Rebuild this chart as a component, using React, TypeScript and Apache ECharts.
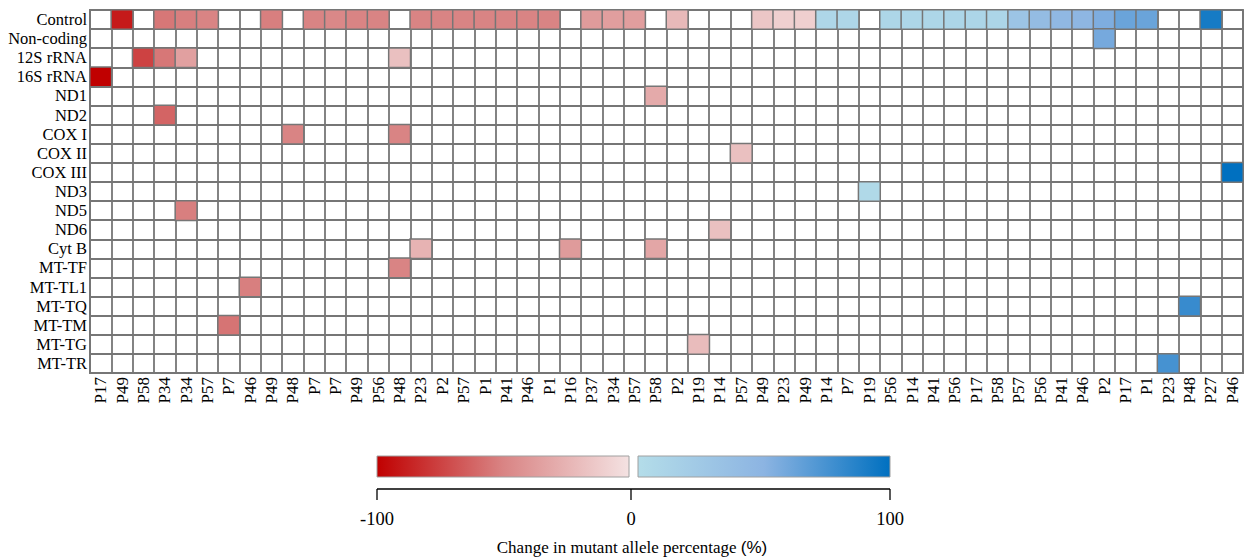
import React, { useEffect, useRef } from "react";
import * as echarts from "echarts";

const xLabels = [
  "P17", "P49", "P58", "P34", "P34", "P57", "P7", "P46", "P49", "P48",
  "P7", "P7", "P49", "P56", "P48", "P23", "P2", "P57", "P1", "P41",
  "P46", "P1", "P16", "P37", "P34", "P57", "P58", "P2", "P19", "P14",
  "P57", "P49", "P23", "P49", "P14", "P7", "P19", "P56", "P14", "P41",
  "P56", "P17", "P58", "P57", "P56", "P41", "P46", "P2", "P17", "P1",
  "P23", "P48", "P27", "P46",
];

const yLabels = [
  "Control", "Non-coding", "12S rRNA", "16S rRNA", "ND1", "ND2", "COX I",
  "COX II", "COX III", "ND3", "ND5", "ND6", "Cyt B", "MT-TF", "MT-TL1",
  "MT-TQ", "MT-TM", "MT-TG", "MT-TR",
];

// Control row: one value per column (null = no change)
const controlRow: (number | null)[] = [
  null, -90, null, -55, -52, -50, null, null, -52, null,
  -50, -48, -50, -50, null, -50, -50, -50, -50, -50,
  -50, -50, null, -38, -36, -36, null, -22, null, null,
  null, -15, -10, -10, 8, 8, null, 9, 9, 9,
  10, 10, 10, 30, 40, 45, 47, 55, 62, 62,
  null, null, 92, null,
];

// Other genes: [column, gene, value]
const otherCells: [number, string, number][] = [
  [47, "Non-coding", 58],
  [2, "12S rRNA", -75],
  [3, "12S rRNA", -55],
  [4, "12S rRNA", -35],
  [14, "12S rRNA", -18],
  [0, "16S rRNA", -100],
  [26, "ND1", -30],
  [3, "ND2", -62],
  [9, "COX I", -50],
  [14, "COX I", -50],
  [30, "COX II", -18],
  [53, "COX III", 100],
  [36, "ND3", 5],
  [4, "ND5", -52],
  [29, "ND6", -18],
  [15, "Cyt B", -25],
  [22, "Cyt B", -38],
  [26, "Cyt B", -32],
  [14, "MT-TF", -50],
  [7, "MT-TL1", -52],
  [51, "MT-TQ", 80],
  [6, "MT-TM", -56],
  [28, "MT-TG", -20],
  [50, "MT-TR", 75],
];

const legendTicks = [-100, 0, 100];

const redColors = ["#c00000", "#d98484", "#f4e2e2"];
const blueColors = ["#b4dde9", "#8cb4e2", "#0070c0"];

const FONT = "'Liberation Serif', 'Times New Roman', serif";

export default function App() {
  const ref = useRef<HTMLDivElement>(null);

  useEffect(() => {
    document.body.style.margin = "0";
    if (!ref.current) return;
    const chart = echarts.init(ref.current, undefined, { renderer: "svg" });

    const allCells: [number, number, number][] = [];
    controlRow.forEach((v, i) => {
      if (v !== null) allCells.push([i, 0, v]);
    });
    otherCells.forEach(([c, g, v]) => {
      allCells.push([c, yLabels.indexOf(g), v]);
    });
    const negCells = allCells.filter((d) => d[2] < 0);
    const posCells = allCells.filter((d) => d[2] >= 0);

    const barY = 456;
    const barH = 21;
    const redX0 = 377;
    const redX1 = 629;
    const blueX0 = 638;
    const blueX1 = 890;
    const axisY = 489;
    const tickPos: Record<number, number> = { [-100]: 377, 0: 631, 100: 890 };

    const graphics: any[] = [
      {
        type: "rect",
        shape: { x: redX0, y: barY, width: redX1 - redX0, height: barH },
        style: {
          fill: new echarts.graphic.LinearGradient(0, 0, 1, 0, [
            { offset: 0, color: redColors[0] },
            { offset: 0.5, color: redColors[1] },
            { offset: 1, color: redColors[2] },
          ]),
          stroke: "#a0a0a0",
          lineWidth: 1,
        },
      },
      {
        type: "rect",
        shape: { x: blueX0, y: barY, width: blueX1 - blueX0, height: barH },
        style: {
          fill: new echarts.graphic.LinearGradient(0, 0, 1, 0, [
            { offset: 0, color: blueColors[0] },
            { offset: 0.5, color: blueColors[1] },
            { offset: 1, color: blueColors[2] },
          ]),
          stroke: "#a0a0a0",
          lineWidth: 1,
        },
      },
      {
        type: "line",
        shape: { x1: redX0, y1: axisY, x2: blueX1, y2: axisY },
        style: { stroke: "#000", lineWidth: 1.3 },
      },
    ];
    legendTicks.forEach((t) => {
      const x = tickPos[t];
      graphics.push({
        type: "line",
        shape: { x1: x, y1: axisY, x2: x, y2: axisY + 11 },
        style: { stroke: "#000", lineWidth: 1.3 },
      });
      graphics.push({
        type: "text",
        x,
        y: 519,
        style: {
          text: String(t),
          font: `18.5px ${FONT}`,
          fill: "#000",
          align: "center",
          verticalAlign: "middle",
        },
      });
    });
    graphics.push({
      type: "text",
      x: 632,
      y: 547,
      style: {
        text: "{a|Change in mutant allele percentage }{b|(%)}",
        rich: {
          a: { fontFamily: FONT, fontSize: 17, fill: "#000", color: "#000" },
          b: { fontFamily: "'Liberation Sans', Arial, sans-serif", fontSize: 17, fill: "#000", color: "#000" },
        },
        align: "center",
        verticalAlign: "middle",
      },
    });

    const lineCol = "#767676";

    chart.setOption({
      animation: false,
      backgroundColor: "#fff",
      grid: {
        left: 90,
        top: 10,
        right: 3,
        bottom: 184,
        show: true,
        borderColor: lineCol,
        borderWidth: 1.8,
        backgroundColor: "#fff",
      },
      xAxis: {
        type: "category",
        data: xLabels,
        position: "bottom",
        axisLine: { show: true, lineStyle: { color: lineCol, width: 1.8 } },
        axisTick: { show: false },
        splitLine: { show: true, interval: 0, lineStyle: { color: lineCol, width: 1.8 } },
        axisLabel: {
          interval: 0,
          rotate: 90,
          fontFamily: FONT,
          fontSize: 17,
          color: "#000",
          margin: 4,
        },
      },
      yAxis: {
        type: "category",
        data: yLabels,
        inverse: true,
        axisLine: { show: true, lineStyle: { color: lineCol, width: 1.8 } },
        axisTick: { show: false },
        splitLine: { show: true, interval: 0, lineStyle: { color: lineCol, width: 1.8 } },
        axisLabel: {
          interval: 0,
          fontFamily: FONT,
          fontSize: 16.5,
          color: "#000",
          margin: 3,
        },
      },
      visualMap: [
        { type: "continuous", show: false, min: -100, max: 0, seriesIndex: 0, dimension: 2, inRange: { color: redColors } },
        { type: "continuous", show: false, min: 0, max: 100, seriesIndex: 1, dimension: 2, inRange: { color: blueColors } },
      ],
      series: [
        { type: "heatmap", data: negCells, itemStyle: { borderColor: lineCol, borderWidth: 1.5 }, emphasis: { disabled: true } },
        { type: "heatmap", data: posCells, itemStyle: { borderColor: lineCol, borderWidth: 1.5 }, emphasis: { disabled: true } },
      ],
      graphic: graphics,
    });

    return () => {
      chart.dispose();
    };
  }, []);

  return <div ref={ref} style={{ width: 1246, height: 557 }} />;
}
